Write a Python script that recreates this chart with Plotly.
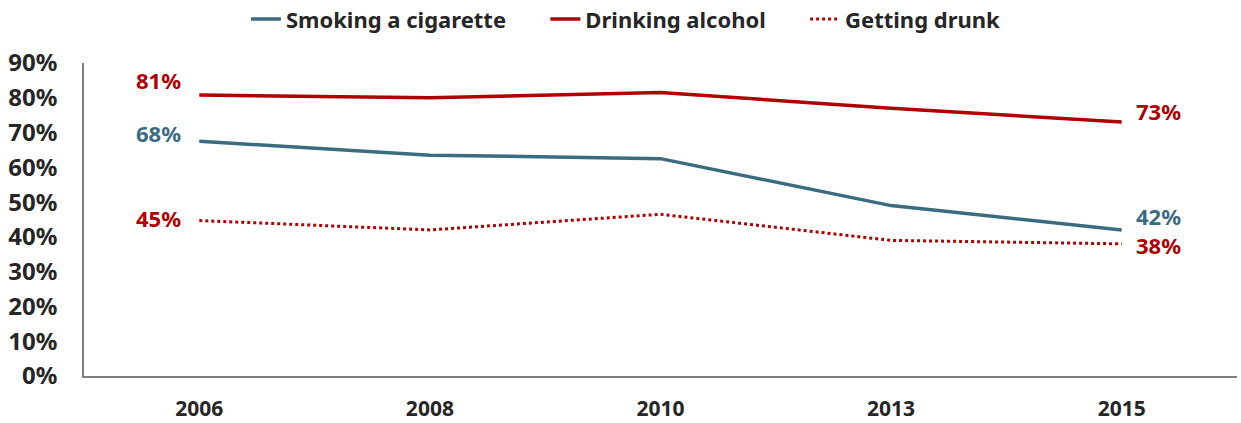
import plotly.graph_objects as go

years = ["2006", "2008", "2010", "2013", "2015"]
smoking = [67.5, 63.5, 62.5, 49, 42]
drinking = [80.8, 80, 81.5, 77, 73]
drunk = [44.7, 42, 46.5, 39, 38]

first_labels = {"smoking": "68%", "drinking": "81%", "drunk": "45%"}
last_labels = {"smoking": "42%", "drinking": "73%", "drunk": "38%"}

TEAL = "#3B6B80"
RED = "#B00000"
FONT = "Noto Sans"
PAD = "\u00a0" * 6

fig = go.Figure()
fig.add_trace(go.Scatter(x=years, y=smoking, mode="lines", name="Smoking a cigarette" + PAD,
                         line=dict(color=TEAL, width=3.5)))
fig.add_trace(go.Scatter(x=years, y=drinking, mode="lines", name="Drinking alcohol" + PAD,
                         line=dict(color=RED, width=3.5)))
fig.add_trace(go.Scatter(x=years, y=drunk, mode="lines", name="Getting drunk",
                         line=dict(color=RED, width=3, dash="dot")))

specs = [
    ("drinking", drinking, RED, 15, 11),
    ("smoking", smoking, TEAL, 8, 14),
    ("drunk", drunk, RED, 3, -1),
]
for key, vals, col, up_first, up_last in specs:
    fig.add_annotation(x=0, y=vals[0], xref="x", yref="y", text="<b>" + first_labels[key] + "</b>",
                       showarrow=False, xanchor="right", xshift=-16, yshift=up_first,
                       font=dict(color=col, family=FONT, size=22))
    fig.add_annotation(x=len(years) - 1, y=vals[-1], xref="x", yref="y",
                       text="<b>" + last_labels[key] + "</b>",
                       showarrow=False, xanchor="left", xshift=12, yshift=up_last,
                       font=dict(color=col, family=FONT, size=22))

fig.update_layout(
    width=1241, height=423,
    margin=dict(l=84, r=4, t=63, b=47, autoexpand=False),
    paper_bgcolor="white", plot_bgcolor="white",
    font=dict(family=FONT, color="#262626"),
    showlegend=True,
    legend=dict(orientation="h", x=0.47, xanchor="center", y=1.14, yanchor="middle",
                font=dict(family=FONT, size=22, color="#262626", weight="bold"),
                traceorder="normal", bgcolor="rgba(0,0,0,0)"),
    xaxis=dict(type="category", range=[-0.5, 4.5], showgrid=False, showline=True,
               linecolor="#7F7F7F", linewidth=1.5, zeroline=False,
               ticks="outside", ticklen=13, tickcolor="rgba(0,0,0,0)",
               automargin=False,
               tickfont=dict(family=FONT, size=21, weight="bold", color="#262626")),
    yaxis=dict(range=[0, 90], dtick=10, tickformat=".0f", ticksuffix="%", showgrid=False,
               showline=True, linecolor="#7F7F7F", linewidth=1.5, zeroline=False,
               ticks="outside", ticklen=20, tickcolor="rgba(0,0,0,0)",
               automargin=False,
               tickfont=dict(family=FONT, size=24, weight="bold", color="#262626")),
)

fig.write_html("out.html", config={"displayModeBar": False},
               post_script="document.body.style.margin='0';document.body.style.padding='0';")
